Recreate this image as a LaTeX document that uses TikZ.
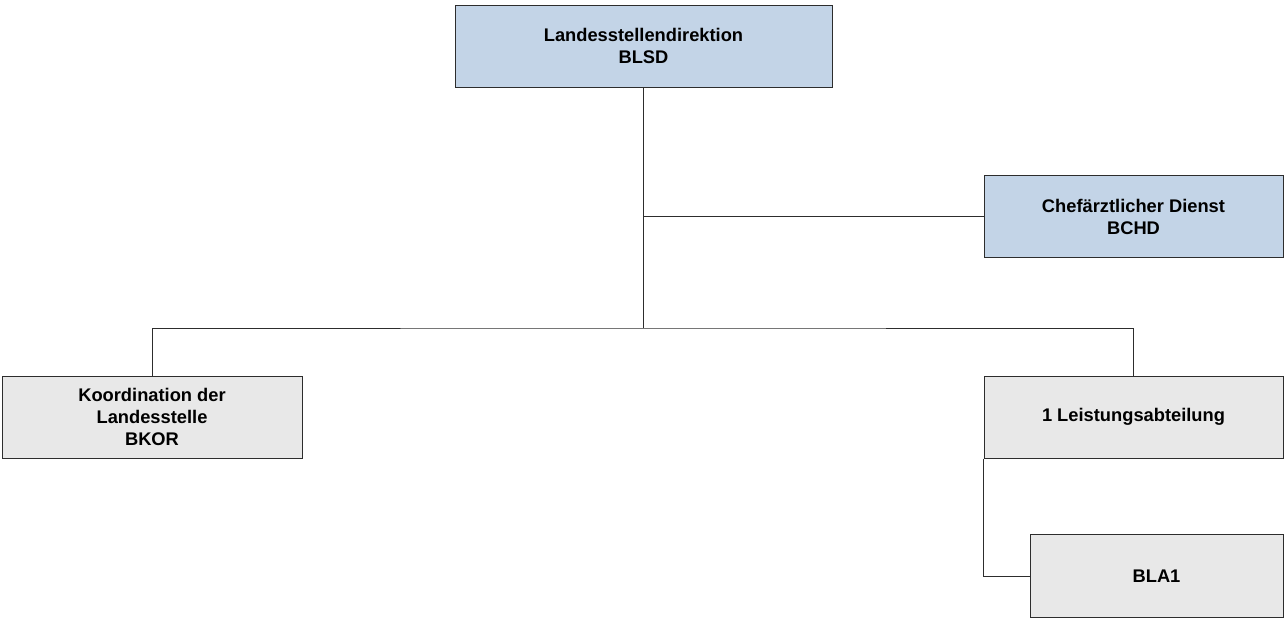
\documentclass[tikz,border=0pt]{standalone}
\usepackage{fontspec}
\setmainfont{Liberation Sans}
\usetikzlibrary{positioning}
\definecolor{boxblue}{RGB}{195,212,231}
\definecolor{boxgray}{RGB}{232,232,232}
\definecolor{linegray}{RGB}{45,45,45}
\tikzset{
unit/.style={draw=linegray, line width=1pt, inner sep=0pt, minimum height=82pt,
  align=center, font=\bfseries\fontsize{18.3}{22}\selectfont},
bluebox/.style={unit, fill=boxblue},
graybox/.style={unit, fill=boxgray},
link/.style={draw=linegray, line width=1pt},
}

\begin{document}
\begin{tikzpicture}[x=1pt, y=-1pt]
\useasboundingbox (0,0) rectangle (1285,619);
    % boxes
    \node[bluebox, minimum width=377pt] (blsd) at (643.5,46) {Landesstellendirektion\\BLSD};
    \node[bluebox, minimum width=299pt] (bchd) at (1133.5,216.5) {Chefärztlicher Dienst\\BCHD};
    \node[graybox, minimum width=300pt] (bkor) at (152,417) {Koordination der\\Landesstelle\\BKOR};
    \node[graybox, minimum width=299pt] (lab) at (1133.5,417) {1 Leistungsabteilung};
    \node[graybox, minimum width=253pt, minimum height=83pt] (bla1) at (1156.5,576) {BLA1};
    \coordinate (hub) at (blsd.south |- 0,328);
    % connectors
    \draw[link] (blsd.south) -- (hub)
    (bchd.west) -- (bchd.west -| blsd.south)
    (bkor.north) |- (hub) -| (lab.north)
    (lab.south west) |- (bla1.west);
\end{tikzpicture}
\end{document}
